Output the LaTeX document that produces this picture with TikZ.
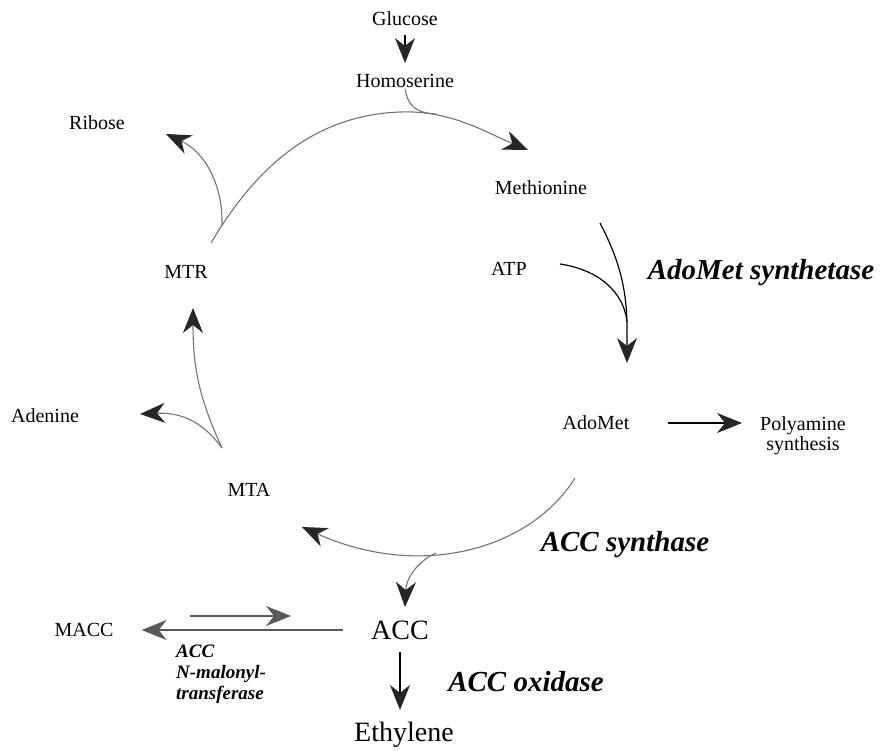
\documentclass[tikz,border=0pt]{standalone}
\usepackage{fontspec}
\setmainfont{Liberation Serif}
\usetikzlibrary{arrows.meta}

\begin{document}
\begin{tikzpicture}[
		x=1pt, y=-1pt,
		every node/.style={inner sep=1pt, font=\fontsize{20}{20}\selectfont},
		enzyme/.style={font=\fontsize{29}{29}\selectfont\bfseries\itshape},
		product/.style={font=\fontsize{28}{28}\selectfont},
		cycleline/.style={draw=black!55, line width=1.1pt},
		blackline/.style={draw=black, line width=1.2pt},
		maccline/.style={draw=black!65, line width=1.3pt},
		bigtip/.style={-{Stealth[length=25pt, width=20pt, inset=8pt, color=black!85]}},
		greytip/.style={-{Stealth[length=25pt, width=20pt, inset=8pt, color=black!65]}}
	]
  \useasboundingbox (0,0) rectangle (882,751);
  \node (glc) at (405,19) {Glucose};
  \node (hse) at (405,81) {Homoserine};
  \node (rib) at (97,123) {Ribose};
  \node (met) at (541,188) {Methionine};
  \node (mtr) at (186,272) {MTR};
  \node (atp) at (509,269) {ATP};
  \node (ado_syn) [enzyme] at (761,273) {AdoMet synthetase};
  \node (ado_met) at (596,423) {AdoMet};
  \node (poly) [align=center] at (803,436) {Polyamine\\synthesis};
  \node (ade) at (45,416) {Adenine};
  \node (mta) at (249,490) {MTA};
  \node (acc_syn) [enzyme] at (625,545) {ACC synthase};
  \node (acc) [product] at (400,630) {ACC};
  \node (macc) at (84,630) {MACC};
  \node (acc_mal) [anchor=north west, inner sep=0pt, align=left,
    font=\fontsize{19}{21}\selectfont\bfseries\itshape] at (176,645) {ACC\\N-malonyl-\\transferase};
  \node (acc_ox) [enzyme] at (526,682) {ACC oxidase};
  \node (eth) [product] at (404,735) {Ethylene};

  \coordinate (mtr_out) at (211,243);
  \coordinate (cyc_top) at (400,112);
  \coordinate (met_in) at (528,150);
  \coordinate (rib_split) at (222,225);
  \coordinate (rib_in) at (166,134);
  \coordinate (hse_join) at (436,114);
  \coordinate (met_out) at (600,223);
  \coordinate (atp_out) at (560,264);
  \coordinate (ado_in) at (627,363);
  \coordinate (sam_out) at (575,478);
  \coordinate (mta_in) at (302,527);
  \coordinate (acc_split) at (436,553);
  \coordinate (acc_in) at (405,607);
  \coordinate (mta_split) at (222,448);
  \coordinate (mtr_in) at (193,308);
  \coordinate (ade_in) at (140,414);

  \draw[blackline, bigtip, shorten <=16pt, shorten >=18pt] (glc.center) -- (hse.center);
  \draw[cycleline, bigtip] (mtr_out) .. controls (260,160) and (320,115) .. (cyc_top)
    .. controls (450,110) and (485,132) .. (met_in);
  \draw[cycleline] (hse.south) .. controls (408,106) and (416,113) .. (hse_join);
  \draw[cycleline, bigtip] (rib_split) .. controls (223,185) and (205,152) .. (rib_in);
  \draw[blackline, bigtip] (met_out) .. controls (622,265) and (627,295) .. (627,330) -- (ado_in);
  \draw[blackline] (atp_out) .. controls (600,270) and (624,293) .. (627,322);
  \draw[blackline, bigtip, shorten <=37pt, shorten >=17pt] (ado_met.east) -- (ado_met.east -| poly.west);
  \draw[cycleline, bigtip] (sam_out) .. controls (530,550) and (420,580) .. (mta_in);
  \draw[cycleline, bigtip] (acc_split) .. controls (416,562) and (406,580) .. (acc_in);
  \draw[cycleline, bigtip] (mta_split) .. controls (200,400) and (193,370) .. (mtr_in);
  \draw[cycleline, bigtip] (mta_split) .. controls (205,425) and (185,412) .. (ade_in);
  \draw[maccline, greytip, shorten <=27pt, shorten >=27pt] (acc.west) -- (macc.east);
  \draw[maccline, greytip, shorten <=75pt, shorten >=79pt] ([yshift=14pt]macc.east) -- ([yshift=14pt]acc.west);
  \draw[blackline, bigtip, shorten <=22pt, shorten >=25pt] (acc.center) -- (acc.center |- eth.center);
\end{tikzpicture}
\end{document}
